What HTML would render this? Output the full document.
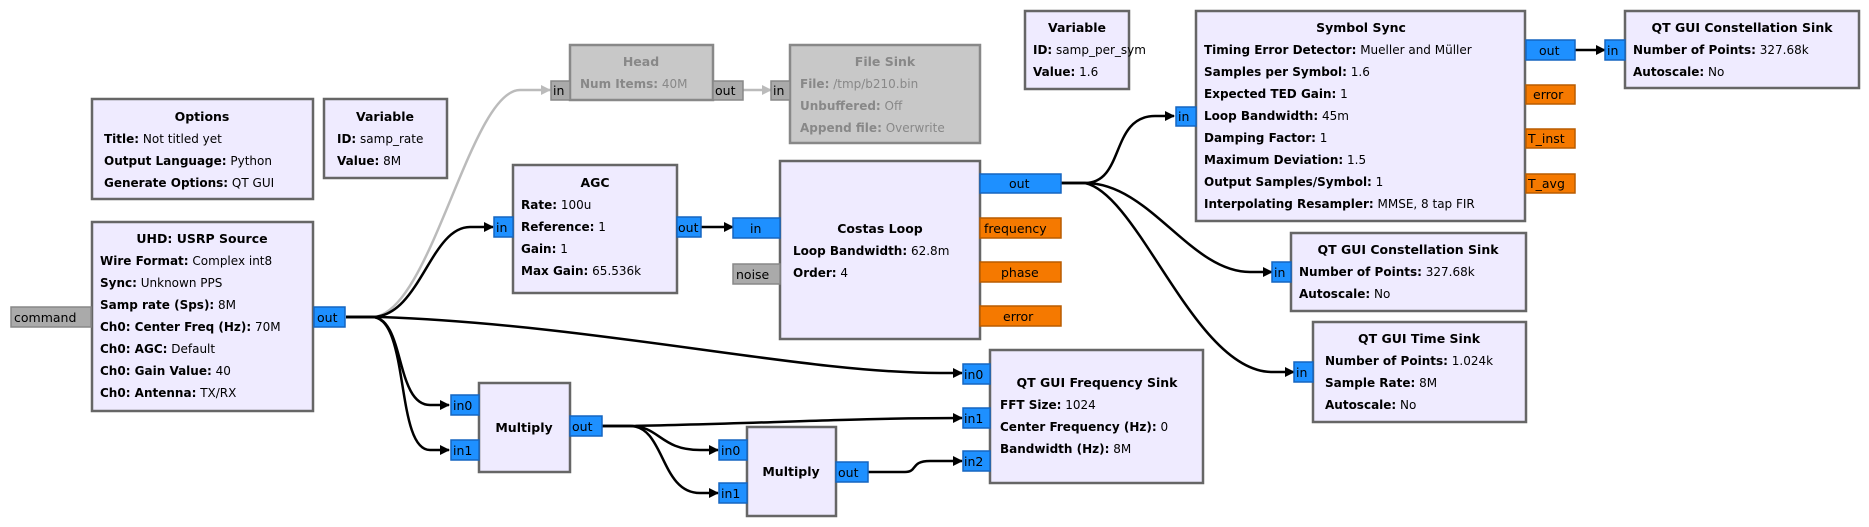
<!DOCTYPE html>
<html><head><meta charset="utf-8"><style>
html,body{margin:0;padding:0;background:#fff;}
svg{display:block;font-family:"DejaVu Sans","Liberation Sans",sans-serif;}
.b{fill:#efebff;stroke:#666;stroke-width:2.5;}
.d{fill:#c8c8c8;stroke:#888;stroke-width:2.5;}
.t{font-size:12.5px;font-weight:bold;text-anchor:middle;fill:#000;}
.r{font-size:12px;fill:#000;}
.r tspan.k{font-weight:bold;}
.g{fill:#888;}
.pb{fill:#1e90ff;stroke:#1565c0;stroke-width:1.5;}
.po{fill:#f57900;stroke:#b85c00;stroke-width:1.5;}
.pg{fill:#aaa;stroke:#888;stroke-width:1.5;}
.pt{font-size:12.5px;fill:#000;}
.w{fill:none;stroke:#000;stroke-width:2.5;}
.wg{fill:none;stroke:#bbb;stroke-width:2.5;}
</style></head><body>
<svg width="1869" height="527" viewBox="0 0 1869 527" xmlns="http://www.w3.org/2000/svg">
<defs>
<marker id="a" markerWidth="10" markerHeight="10" refX="9" refY="5" orient="auto" markerUnits="userSpaceOnUse"><path d="M0,0 L10,5 L0,10 z" fill="#000"/></marker>
<marker id="ag" markerWidth="10" markerHeight="10" refX="9" refY="5" orient="auto" markerUnits="userSpaceOnUse"><path d="M0,0 L10,5 L0,10 z" fill="#bbb"/></marker>
</defs>

<!-- wires -->
<path class="wg" d="M346,317 L372,317 C430,317 470,90 520,90 L550,90" marker-end="url(#ag)"/>
<path class="wg" d="M743,90 L771,90" marker-end="url(#ag)"/>
<path class="w" d="M346,317 L372,317 C420,317 430,227 470,227 L493,227" marker-end="url(#a)"/>
<path class="w" d="M701,227 L733,227" marker-end="url(#a)"/>
<path class="w" d="M346,317 L380,317 C600,325 800,373 940,373 L962,373" marker-end="url(#a)"/>
<path class="w" d="M346,317 L372,317 C405,317 395,405 430,405 L449,405" marker-end="url(#a)"/>
<path class="w" d="M346,317 L372,317 C410,317 395,450 430,450 L449,450" marker-end="url(#a)"/>
<path class="w" d="M602,426 L630,426 C750,424 850,418 962,418" marker-end="url(#a)"/>
<path class="w" d="M602,426 L630,426 C660,426 660,450 700,450 L718,450" marker-end="url(#a)"/>
<path class="w" d="M602,426 L630,426 C665,426 660,493 700,493 L718,493" marker-end="url(#a)"/>
<path class="w" d="M868,472 L905,472 C918,472 910,461 930,461 L962,461" marker-end="url(#a)"/>
<path class="w" d="M1061,183 L1085,183 C1125,183 1110,116 1155,116 L1174,116" marker-end="url(#a)"/>
<path class="w" d="M1061,183 L1085,183 C1150,183 1190,272 1250,272 L1272,272" marker-end="url(#a)"/>
<path class="w" d="M1061,183 L1085,183 C1140,195 1195,372 1272,372 L1294,372" marker-end="url(#a)"/>
<path class="w" d="M1575,50 L1605,50" marker-end="url(#a)"/>

<!-- Options -->
<rect class="b" x="92" y="99" width="221" height="100"/>
<text class="t" x="202" y="121">Options</text>
<text class="r" x="104" y="143"><tspan class="k">Title:</tspan> Not titled yet</text>
<text class="r" x="104" y="165"><tspan class="k">Output Language:</tspan> Python</text>
<text class="r" x="104" y="187"><tspan class="k">Generate Options:</tspan> QT GUI</text>

<!-- Variable samp_rate -->
<rect class="b" x="324" y="99" width="123" height="79"/>
<text class="t" x="385" y="121">Variable</text>
<text class="r" x="337" y="143"><tspan class="k">ID:</tspan> samp_rate</text>
<text class="r" x="337" y="165"><tspan class="k">Value:</tspan> 8M</text>

<!-- USRP -->
<rect class="b" x="92" y="222" width="221" height="189"/>
<text class="t" x="202" y="243">UHD: USRP Source</text>
<text class="r" x="100" y="265"><tspan class="k">Wire Format:</tspan> Complex int8</text>
<text class="r" x="100" y="287"><tspan class="k">Sync:</tspan> Unknown PPS</text>
<text class="r" x="100" y="309"><tspan class="k">Samp rate (Sps):</tspan> 8M</text>
<text class="r" x="100" y="331"><tspan class="k">Ch0: Center Freq (Hz):</tspan> 70M</text>
<text class="r" x="100" y="353"><tspan class="k">Ch0: AGC:</tspan> Default</text>
<text class="r" x="100" y="375"><tspan class="k">Ch0: Gain Value:</tspan> 40</text>
<text class="r" x="100" y="397"><tspan class="k">Ch0: Antenna:</tspan> TX/RX</text>
<rect class="pg" x="11" y="307" width="80" height="20"/><text class="pt" x="14" y="322">command</text>
<rect class="pb" x="314" y="307" width="31" height="20"/><text class="pt" x="317" y="322">out</text>

<!-- Head -->
<rect class="d" x="570" y="45" width="143" height="55"/>
<text class="t g" x="641" y="66">Head</text>
<text class="r g" x="580" y="88"><tspan class="k">Num Items:</tspan> 40M</text>
<rect class="pg" x="551" y="81" width="19" height="19"/><text class="pt g" x="553" y="95">in</text>
<rect class="pg" x="713" y="81" width="30" height="19"/><text class="pt g" x="715" y="95">out</text>

<!-- File Sink -->
<rect class="d" x="790" y="45" width="190" height="98"/>
<text class="t g" x="885" y="66">File Sink</text>
<text class="r g" x="800" y="88"><tspan class="k">File:</tspan> /tmp/b210.bin</text>
<text class="r g" x="800" y="110"><tspan class="k">Unbuffered:</tspan> Off</text>
<text class="r g" x="800" y="132"><tspan class="k">Append file:</tspan> Overwrite</text>
<rect class="pg" x="771" y="81" width="19" height="19"/><text class="pt g" x="773" y="95">in</text>

<!-- AGC -->
<rect class="b" x="513" y="165" width="164" height="128"/>
<text class="t" x="595" y="187">AGC</text>
<text class="r" x="521" y="209"><tspan class="k">Rate:</tspan> 100u</text>
<text class="r" x="521" y="231"><tspan class="k">Reference:</tspan> 1</text>
<text class="r" x="521" y="253"><tspan class="k">Gain:</tspan> 1</text>
<text class="r" x="521" y="275"><tspan class="k">Max Gain:</tspan> 65.536k</text>
<rect class="pb" x="494" y="217" width="19" height="20"/><text class="pt" x="496" y="232">in</text>
<rect class="pb" x="677" y="217" width="24" height="20"/><text class="pt" x="678" y="232">out</text>

<!-- Costas -->
<rect class="b" x="780" y="161" width="200" height="178"/>
<text class="t" x="880" y="233">Costas Loop</text>
<text class="r" x="793" y="255"><tspan class="k">Loop Bandwidth:</tspan> 62.8m</text>
<text class="r" x="793" y="277"><tspan class="k">Order:</tspan> 4</text>
<rect class="pb" x="733" y="218" width="47" height="20"/><text class="pt" x="750" y="233">in</text>
<rect class="pg" x="733" y="264" width="47" height="20"/><text class="pt" x="736" y="279">noise</text>
<rect class="pb" x="980" y="174" width="81" height="19"/><text class="pt" x="1009" y="188">out</text>
<rect class="po" x="980" y="218" width="81" height="20"/><text class="pt" x="984" y="233">frequency</text>
<rect class="po" x="980" y="262" width="81" height="20"/><text class="pt" x="1001" y="277">phase</text>
<rect class="po" x="980" y="306" width="81" height="20"/><text class="pt" x="1003" y="321">error</text>

<!-- Variable samp_per_sym -->
<rect class="b" x="1025" y="11" width="104" height="78"/>
<text class="t" x="1077" y="32">Variable</text>
<text class="r" x="1033" y="54"><tspan class="k">ID:</tspan> samp_per_sym</text>
<text class="r" x="1033" y="76"><tspan class="k">Value:</tspan> 1.6</text>

<!-- Symbol Sync -->
<rect class="b" x="1196" y="11" width="329" height="210"/>
<text class="t" x="1361" y="32">Symbol Sync</text>
<text class="r" x="1204" y="54"><tspan class="k">Timing Error Detector:</tspan> Mueller and Müller</text>
<text class="r" x="1204" y="76"><tspan class="k">Samples per Symbol:</tspan> 1.6</text>
<text class="r" x="1204" y="98"><tspan class="k">Expected TED Gain:</tspan> 1</text>
<text class="r" x="1204" y="120"><tspan class="k">Loop Bandwidth:</tspan> 45m</text>
<text class="r" x="1204" y="142"><tspan class="k">Damping Factor:</tspan> 1</text>
<text class="r" x="1204" y="164"><tspan class="k">Maximum Deviation:</tspan> 1.5</text>
<text class="r" x="1204" y="186"><tspan class="k">Output Samples/Symbol:</tspan> 1</text>
<text class="r" x="1204" y="208"><tspan class="k">Interpolating Resampler:</tspan> MMSE, 8 tap FIR</text>
<rect class="pb" x="1176" y="107" width="20" height="19"/><text class="pt" x="1178" y="121">in</text>
<rect class="pb" x="1526" y="40" width="49" height="20"/><text class="pt" x="1539" y="55">out</text>
<rect class="po" x="1526" y="85" width="49" height="19"/><text class="pt" x="1533" y="99">error</text>
<rect class="po" x="1526" y="129" width="49" height="19"/><text class="pt" x="1528" y="143">T_inst</text>
<rect class="po" x="1526" y="174" width="49" height="19"/><text class="pt" x="1528" y="188">T_avg</text>

<!-- Const top -->
<rect class="b" x="1625" y="11" width="234" height="77"/>
<text class="t" x="1742" y="32">QT GUI Constellation Sink</text>
<text class="r" x="1633" y="54"><tspan class="k">Number of Points:</tspan> 327.68k</text>
<text class="r" x="1633" y="76"><tspan class="k">Autoscale:</tspan> No</text>
<rect class="pb" x="1605" y="40" width="20" height="20"/><text class="pt" x="1607" y="55">in</text>

<!-- Const mid -->
<rect class="b" x="1291" y="233" width="235" height="78"/>
<text class="t" x="1408" y="254">QT GUI Constellation Sink</text>
<text class="r" x="1299" y="276"><tspan class="k">Number of Points:</tspan> 327.68k</text>
<text class="r" x="1299" y="298"><tspan class="k">Autoscale:</tspan> No</text>
<rect class="pb" x="1272" y="262" width="19" height="20"/><text class="pt" x="1274" y="277">in</text>

<!-- Time sink -->
<rect class="b" x="1313" y="322" width="213" height="100"/>
<text class="t" x="1419" y="343">QT GUI Time Sink</text>
<text class="r" x="1325" y="365"><tspan class="k">Number of Points:</tspan> 1.024k</text>
<text class="r" x="1325" y="387"><tspan class="k">Sample Rate:</tspan> 8M</text>
<text class="r" x="1325" y="409"><tspan class="k">Autoscale:</tspan> No</text>
<rect class="pb" x="1294" y="362" width="19" height="20"/><text class="pt" x="1296" y="377">in</text>

<!-- Freq sink -->
<rect class="b" x="990" y="350" width="213" height="133"/>
<text class="t" x="1097" y="387">QT GUI Frequency Sink</text>
<text class="r" x="1000" y="409"><tspan class="k">FFT Size:</tspan> 1024</text>
<text class="r" x="1000" y="431"><tspan class="k">Center Frequency (Hz):</tspan> 0</text>
<text class="r" x="1000" y="453"><tspan class="k">Bandwidth (Hz):</tspan> 8M</text>
<rect class="pb" x="963" y="364" width="27" height="20"/><text class="pt" x="964" y="379">in0</text>
<rect class="pb" x="963" y="408" width="27" height="20"/><text class="pt" x="964" y="423">in1</text>
<rect class="pb" x="963" y="451" width="27" height="20"/><text class="pt" x="964" y="466">in2</text>

<!-- Multiply 1 -->
<rect class="b" x="479" y="383" width="91" height="89"/>
<text class="t" x="524" y="432">Multiply</text>
<rect class="pb" x="451" y="395" width="28" height="20"/><text class="pt" x="453" y="410">in0</text>
<rect class="pb" x="451" y="440" width="28" height="20"/><text class="pt" x="453" y="455">in1</text>
<rect class="pb" x="570" y="416" width="32" height="20"/><text class="pt" x="572" y="431">out</text>

<!-- Multiply 2 -->
<rect class="b" x="747" y="427" width="89" height="89"/>
<text class="t" x="791" y="476">Multiply</text>
<rect class="pb" x="719" y="440" width="28" height="20"/><text class="pt" x="721" y="455">in0</text>
<rect class="pb" x="719" y="483" width="28" height="20"/><text class="pt" x="721" y="498">in1</text>
<rect class="pb" x="836" y="462" width="32" height="20"/><text class="pt" x="838" y="477">out</text>
</svg>
</body></html>
